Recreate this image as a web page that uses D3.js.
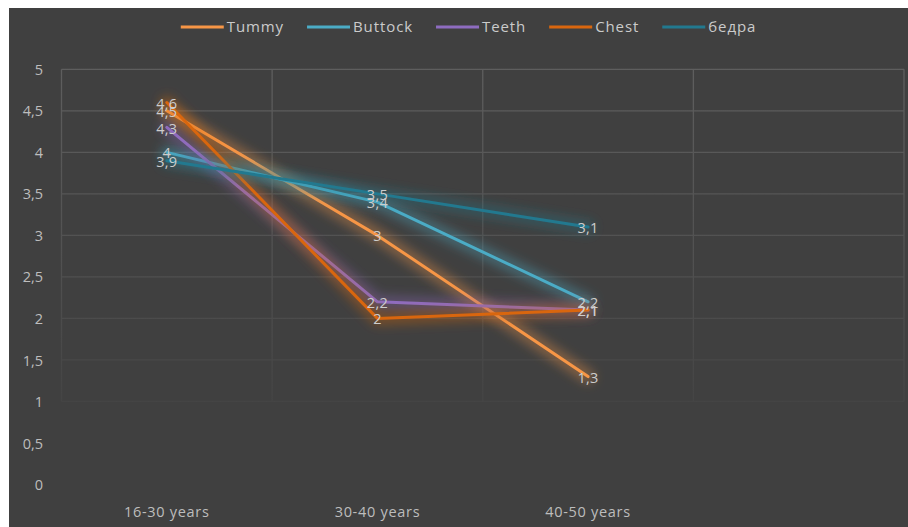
<!DOCTYPE html>
<html>
<head>
<meta charset="utf-8">
<script src="https://cdn.jsdelivr.net/npm/d3@7"></script>
<style>
  html, body { margin: 0; padding: 0; background: #ffffff; }
  svg { display: block; }
  text { font-family: "Open Sans", "DejaVu Sans", sans-serif; }
</style>
</head>
<body>
<svg id="chart" width="908" height="527"></svg>
<script>
// ---- data ----
const categories = ["16-30 years", "30-40 years", "40-50 years", ""];
const seriesNames = ["Tummy", "Buttock", "Teeth", "Chest", "бедра"];
const tummy   = [4.5, 3.0, 1.3];
const buttock = [4.0, 3.4, 2.2];
const teeth   = [4.3, 2.2, 2.1];
const chest   = [4.6, 2.0, 2.1];
const bedra   = [3.9, 3.5, 3.1];
const yTicks  = [0, 0.5, 1, 1.5, 2, 2.5, 3, 3.5, 4, 4.5, 5];

const seriesValues = [tummy, buttock, teeth, chest, bedra];
const colors = ["#F79646", "#4BACC6", "#8E6CC0", "#D9660E", "#22798F"];

(function () {
const svg = d3.select("#chart");
const W = 908, H = 527;

svg.append("rect").attr("x", 0).attr("y", 0).attr("width", W).attr("height", H).attr("fill", "#ffffff");
svg.append("rect").attr("x", 9).attr("y", 8).attr("width", W - 9).attr("height", H - 8).attr("fill", "#404040");

const pLeft = 61.5, pRight = 904, pTop = 69.3, pBottom = 484.5;

const x = d3.scaleBand().domain(categories).range([pLeft, pRight]).paddingInner(0).paddingOuter(0);
const y = d3.scaleLinear().domain([0, 5]).range([pBottom, pTop]);

const defs = svg.append("defs");
const grad = defs.append("linearGradient")
  .attr("id", "gridFade").attr("gradientUnits", "userSpaceOnUse")
  .attr("x1", 0).attr("x2", 0).attr("y1", y(5)).attr("y2", y(1) + 4);
grad.append("stop").attr("offset", "0%").attr("stop-color", "#5e5e5e");
grad.append("stop").attr("offset", "60%").attr("stop-color", "#505050");
grad.append("stop").attr("offset", "100%").attr("stop-color", "#444444");

const blur = defs.append("filter").attr("id", "glow")
  .attr("filterUnits", "userSpaceOnUse")
  .attr("x", 0).attr("y", 0).attr("width", W).attr("height", H);
blur.append("feGaussianBlur").attr("stdDeviation", 5.5);

const grid = svg.append("g");
grid.selectAll("line.h").data(yTicks.filter(t => t >= 1)).join("line")
  .attr("x1", pLeft).attr("x2", pRight)
  .attr("y1", d => y(d)).attr("y2", d => y(d))
  .attr("stroke", "url(#gridFade)").attr("stroke-width", 1.3);
const vEdges = categories.map(c => x(c)).concat([pRight]);
grid.selectAll("line.v").data(vEdges).join("line")
  .attr("x1", d => d).attr("x2", d => d)
  .attr("y1", y(5)).attr("y2", y(1))
  .attr("stroke", "url(#gridFade)").attr("stroke-width", 1.3);

const yAxis = d3.axisLeft(y).tickValues(yTicks).tickSize(0).tickPadding(0)
  .tickFormat(d => String(d).replace(".", ","));
const gy = svg.append("g").attr("transform", "translate(43,0)").call(yAxis);
gy.select(".domain").remove();
gy.selectAll("text").attr("fill", "#bdbdbd").attr("font-size", 14.5)
  .attr("font-family", "\"Open Sans\", \"DejaVu Sans\", sans-serif")
  .attr("dy", "0.35em");

const xAxis = d3.axisBottom(x).tickSize(0).tickPadding(0);
const gx = svg.append("g").attr("transform", "translate(0,507)").call(xAxis);
gx.select(".domain").remove();
gx.selectAll("text").attr("fill", "#bdbdbd").attr("font-size", 14.5)
  .attr("letter-spacing", 0.7)
  .attr("font-family", "\"Open Sans\", \"DejaVu Sans\", sans-serif");

const line = d3.line()
  .x((d, i) => x(categories[i]) + x.bandwidth() / 2)
  .y(d => y(d));

const lines = svg.append("g");
seriesValues.forEach((vals, si) => {
  lines.append("path").attr("d", line(vals))
    .attr("fill", "none").attr("stroke", colors[si])
    .attr("stroke-width", 13).attr("stroke-opacity", 0.38)
    .attr("stroke-linejoin", "round").attr("stroke-linecap", "round")
    .attr("filter", "url(#glow)");
  lines.append("path").attr("d", line(vals))
    .attr("fill", "none").attr("stroke", colors[si])
    .attr("stroke-width", 3)
    .attr("stroke-linejoin", "round").attr("stroke-linecap", "round");
});

const labels = svg.append("g");
seriesValues.forEach((vals, si) => {
  labels.selectAll(null).data(vals).join("text")
    .attr("x", (d, i) => x(categories[i]) + x.bandwidth() / 2)
    .attr("y", d => y(d) + 1)
    .attr("dy", "0.35em")
    .attr("text-anchor", "middle")
    .attr("font-size", 14.5)
    .attr("letter-spacing", 0.3)
    .attr("fill", "#cdcdcd")
    .text(d => String(d).replace(".", ","));
});

const legend = svg.append("g");
const lineLen = 43, gapTxt = 3, gapItem = 23;
const items = [];
let cx = 0;
seriesNames.forEach((name, i) => {
  const g = legend.append("g");
  g.append("line").attr("x1", 0).attr("x2", lineLen).attr("y1", 0).attr("y2", 0)
    .attr("stroke", colors[i]).attr("stroke-width", 3);
  const t = g.append("text").attr("x", lineLen + gapTxt).attr("y", 0).attr("dy", "0.35em")
    .attr("font-size", 15).attr("letter-spacing", 0.9).attr("fill", "#cbcbcb").text(name);
  const w = t.node().getComputedTextLength();
  items.push({ g, x: cx });
  cx += lineLen + gapTxt + w + gapItem;
});
const total = cx - gapItem;
const startX = 468.5 - total / 2;
items.forEach(it => it.g.attr("transform", `translate(${startX + it.x},27)`));
})();
</script>
</body>
</html>
